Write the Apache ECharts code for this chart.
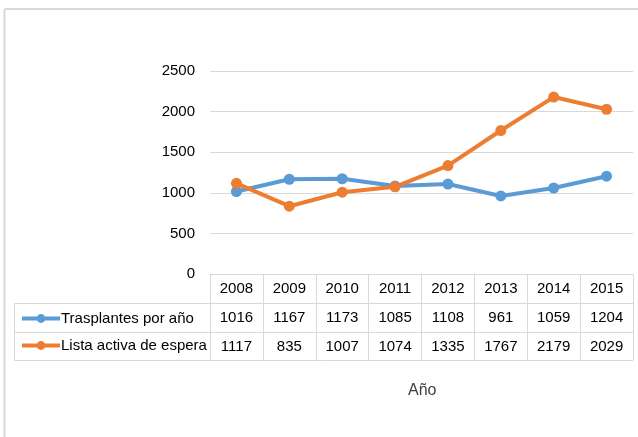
<!DOCTYPE html>
<html>
<head>
<meta charset="utf-8">
<script src="https://cdn.jsdelivr.net/npm/echarts@6/dist/echarts.min.js"></script>
<style>
  html, body { margin: 0; padding: 0; background: #fff; }
  #main { width: 638px; height: 437px; }
</style>
</head>
<body>
<div id="main"></div>
<script>
// values
const years = ['2008', '2009', '2010', '2011', '2012', '2013', '2014', '2015'];
const trasplantes = [1016, 1167, 1173, 1085, 1108, 961, 1059, 1204];
const listaEspera = [1117, 835, 1007, 1074, 1335, 1767, 2179, 2029];
const seriesNames = ['Trasplantes por año', 'Lista activa de espera'];

const font = '"Liberation Sans", Arial, sans-serif';
const gridColor = '#d9d9d9';
const textColor = '#000';

const myChart = echarts.init(document.getElementById('main'));

// data table rows are faked with extra x axes stacked below the plot
const tableAxis = (data, offset, showTicks) => ({
  type: 'category',
  gridIndex: 0,
  position: 'bottom',
  offset,
  data,
  boundaryGap: true,
  axisLine: { show: true, lineStyle: { color: gridColor, width: 1 } },
  axisTick: { show: showTicks, length: 86, lineStyle: { color: gridColor } },
  axisLabel: { margin: 7, color: textColor, fontSize: 15, fontFamily: font, interval: 0 },
});

const option = {
  animation: false,
  backgroundColor: '#fff',
  legend: {
    orient: 'vertical',
    left: 15,
    top: 306,
    itemGap: 12,
    itemWidth: 38,
    itemHeight: 11,
    lineStyle: { width: 4 },
    textStyle: { fontSize: 15, fontFamily: font, color: textColor, padding: [0, 0, 0, -4] },
    data: seriesNames,
  },
  grid: { left: 210, right: 5, top: 71, bottom: 163 },
  xAxis: [
    tableAxis(years, 0, true),
    tableAxis(trasplantes.map(String), 29, false),
    tableAxis(listaEspera.map(String), 58, false),
  ],
  yAxis: {
    type: 'value',
    min: 0,
    max: 2500,
    interval: 500,
    axisLine: { show: false },
    axisTick: { show: false },
    axisLabel: {
      margin: 15,
      color: textColor,
      fontSize: 15,
      fontFamily: font,
      formatter: (v) => String(v),
    },
    splitLine: { lineStyle: { color: gridColor, width: 1 } },
  },
  series: [
    {
      name: seriesNames[0],
      type: 'line',
      xAxisIndex: 0,
      data: trasplantes,
      color: '#5b9bd5',
      symbol: 'circle',
      symbolSize: 11,
      lineStyle: { width: 4 },
    },
    {
      name: seriesNames[1],
      type: 'line',
      xAxisIndex: 0,
      data: listaEspera,
      color: '#ed7d31',
      symbol: 'circle',
      symbolSize: 11,
      lineStyle: { width: 4 },
    },
  ],
  graphic: [
    // outer chart frame (only top and left are visible in the crop)
    { type: 'line', shape: { x1: 4.5, y1: 9, x2: 638, y2: 9 }, style: { stroke: gridColor, lineWidth: 2 } },
    { type: 'line', shape: { x1: 4.5, y1: 9, x2: 4.5, y2: 437 }, style: { stroke: gridColor, lineWidth: 2 } },
    // legend column of the data table
    { type: 'line', shape: { x1: 14.5, y1: 303.5, x2: 210, y2: 303.5 }, style: { stroke: gridColor } },
    { type: 'line', shape: { x1: 14.5, y1: 332.5, x2: 210, y2: 332.5 }, style: { stroke: gridColor } },
    { type: 'line', shape: { x1: 14.5, y1: 360.5, x2: 633, y2: 360.5 }, style: { stroke: gridColor } },
    { type: 'line', shape: { x1: 14.5, y1: 303.5, x2: 14.5, y2: 360.5 }, style: { stroke: gridColor } },
    {
      type: 'text',
      left: 408,
      top: 383,
      style: { text: 'Año', fontSize: 16, fontFamily: font, fill: '#404040' },
    },
  ],
};

myChart.setOption(option);
</script>
</body>
</html>
